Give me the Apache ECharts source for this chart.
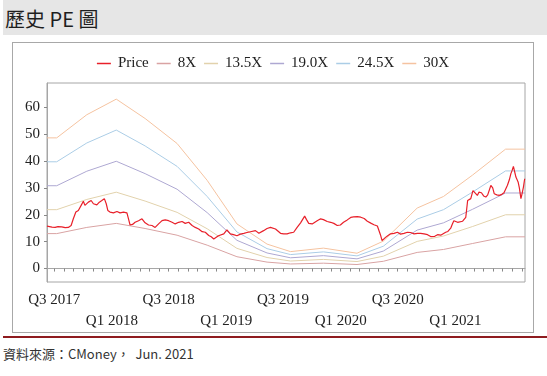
<!DOCTYPE html>
<html>
<head>
<meta charset="utf-8">
<script src="https://cdn.jsdelivr.net/npm/echarts@6/dist/echarts.min.js"></script>
<style>
  body { margin: 0; width: 547px; height: 376px; background: #fff; position: relative; overflow: hidden; font-family: "Noto Sans CJK TC", sans-serif; }
  .title-bar { position: absolute; left: 3px; top: 0; width: 544px; height: 35px; background: #e6e6e6; }
  .title-bar span { position: absolute; left: 2px; top: 0; line-height: 37px; font-size: 20px; color: #1e1e1e; }
  .chart-box { position: absolute; left: 12px; top: 42px; width: 520px; height: 289px; border: 1px solid #a8a8a8; }
  #pe-chart { width: 520px; height: 289px; }
  .source-line { position: absolute; left: 3px; top: 336px; width: 544px; height: 2px; background: #8e1b1f; }
  .source-text { position: absolute; left: 3px; top: 345px; line-height: 17px; font-size: 13px; color: #333; }
</style>
</head>
<body>
<div class="title-bar"><span>歷史 PE 圖</span></div>
<div class="chart-box"><div id="pe-chart"></div></div>
<div class="source-line"></div>
<div class="source-text">資料來源：CMoney，&nbsp; Jun. 2021</div>
<script>
// 股價 (讀圖估計)
var priceDates = ['2017-06-08','2017-06-16','2017-06-24','2017-07-04','2017-07-13','2017-07-25','2017-08-05','2017-08-15','2017-08-24','2017-08-31',
  '2017-09-08','2017-09-16','2017-09-25','2017-10-02','2017-10-07','2017-10-18','2017-10-27','2017-11-03','2017-11-14','2017-11-22',
  '2017-11-30','2017-12-08','2017-12-14','2017-12-19','2017-12-26','2018-01-06','2018-01-17','2018-01-27','2018-02-07','2018-02-18',
  '2018-02-23','2018-02-28','2018-03-08','2018-03-16','2018-03-27','2018-04-07','2018-04-17','2018-04-28','2018-05-09','2018-05-19',
  '2018-05-30','2018-06-10','2018-06-20','2018-07-01','2018-07-12','2018-07-22','2018-08-02','2018-08-13','2018-08-23','2018-09-03',
  '2018-09-14','2018-09-24','2018-10-05','2018-10-16','2018-10-26','2018-11-06','2018-11-14','2018-11-22','2018-11-27','2018-12-07',
  '2018-12-13','2018-12-24','2019-01-03','2019-01-14','2019-01-24','2019-02-04','2019-02-15','2019-02-26','2019-03-08','2019-03-19',
  '2019-04-04','2019-04-15','2019-04-30','2019-05-11','2019-05-22','2019-06-07','2019-06-23','2019-07-03','2019-07-14','2019-07-25',
  '2019-08-04','2019-08-15','2019-08-26','2019-09-01','2019-09-08','2019-09-14','2019-09-21','2019-10-02','2019-10-18','2019-10-29',
  '2019-11-07','2019-11-19','2019-11-30','2019-12-10','2019-12-21','2019-12-31','2020-01-10','2020-01-22','2020-02-02','2020-02-11',
  '2020-02-23','2020-03-05','2020-03-16','2020-03-26','2020-04-06','2020-04-16','2020-04-27','2020-05-02','2020-05-07','2020-05-12',
  '2020-05-17','2020-05-23','2020-05-30','2020-06-08','2020-06-19','2020-06-30','2020-07-10','2020-07-21','2020-08-01','2020-08-11',
  '2020-08-22','2020-09-02','2020-09-12','2020-09-23','2020-10-04','2020-10-14','2020-10-20','2020-10-27','2020-11-05','2020-11-15',
  '2020-11-21','2020-12-01','2020-12-08','2020-12-17','2020-12-22','2020-12-27','2021-01-08','2021-01-13','2021-01-24','2021-01-29',
  '2021-02-03','2021-02-09','2021-02-14','2021-02-19','2021-02-26','2021-03-04','2021-03-12','2021-03-17','2021-03-25','2021-04-01',
  '2021-04-08','2021-04-14','2021-04-24','2021-04-30','2021-05-05','2021-05-13','2021-05-21','2021-05-29','2021-06-05','2021-06-16',
  '2021-06-22','2021-06-27','2021-07-01','2021-07-05','2021-07-09','2021-07-13','2021-07-20','2021-07-24','2021-07-29','2021-08-01',
  '2021-08-06','2021-08-10'];
var priceValues = [15.8,15.6,15.4,15.3,15.6,15.5,15.2,15.3,16.0,18.5,
  21.0,21.6,23.5,25.0,23.5,24.7,25.3,24.1,23.7,24.7,
  25.3,26.0,24.1,21.6,21.0,20.7,21.2,20.7,21.0,20.7,
  18.5,16.2,16.4,17.2,17.8,18.5,17.0,16.2,16.0,15.3,
  16.6,17.8,18.1,17.8,17.2,16.6,17.2,17.5,16.8,17.2,
  16.0,15.3,14.7,13.7,13.5,12.3,11.8,11.0,10.6,12.2,
  12.5,12.9,14.4,12.9,12.6,12.2,12.8,13.1,13.4,13.7,
  14.1,13.1,14.1,14.9,15.3,14.7,13.1,12.9,12.9,13.3,
  13.5,15.3,17.0,17.5,19.5,18.2,16.8,16.6,17.8,18.5,
  18.2,17.5,17.2,16.8,16.0,16.2,17.2,18.1,19.0,19.2,
  19.3,19.1,18.6,17.6,16.9,16.3,15.8,15.3,12.5,10.4,
  10.0,11.6,12.2,12.9,13.1,13.5,12.8,13.1,13.5,13.4,
  12.9,13.1,13.1,12.9,12.6,11.9,11.4,12.0,12.6,12.4,
  12.2,13.5,13.8,15.0,16.5,17.8,17.2,16.8,17.6,17.8,
  19.0,25.3,25.0,26.0,29.0,29.3,27.2,28.4,28.2,27.0,
  26.6,27.4,30.9,30.0,27.8,27.4,27.2,27.6,28.2,31.0,
  33.0,35.3,36.5,38.0,36.0,34.0,32.2,30.0,26.0,27.5,
  30.3,33.4];

// 本益比河流圖轉折點
var bandDates = ['2017-06-08','2017-07-09','2017-10-13','2018-01-15','2018-04-17','2018-07-28','2018-11-01','2019-02-04','2019-05-11',
  '2019-07-25','2019-11-07','2020-02-22','2020-05-16','2020-09-01','2020-11-24','2021-02-24','2021-06-10','2021-08-11'];
var band8 =  [13.0,13.0,15.3,16.8,14.9,12.4,8.7,4.4,2.4,1.7,2.0,1.5,2.7,6.0,7.1,9.3,11.8,11.8];
var band135 = [21.9,21.9,25.7,28.4,25.1,20.9,14.8,7.5,4.1,2.8,3.4,2.6,4.6,10.1,12.1,15.6,20.0,20.0];
var band190 = [30.8,30.8,36.2,39.9,35.3,29.5,20.8,10.5,5.8,4.0,4.8,3.6,6.5,14.3,17.0,22.0,28.1,28.1];
var band245 = [39.7,39.7,46.7,51.5,45.6,38.0,26.8,13.6,7.4,5.2,6.2,4.7,8.3,18.4,21.9,28.4,36.3,36.3];
var band30 =  [48.6,48.6,57.2,63.0,55.8,46.5,32.8,16.6,9.1,6.3,7.6,5.7,10.2,22.5,26.8,34.7,44.4,44.4];

// 座標軸
var xLabelDates = ['2017-07-01','2018-01-01','2018-07-01','2019-01-01','2019-07-01','2020-01-01','2020-07-01','2021-01-01'];
var xLabelTexts = ['Q3 2017','Q1 2018','Q3 2018','Q1 2019','Q3 2019','Q1 2020','Q3 2020','Q1 2021'];
var xTickMonths = ['2017-07-01','2017-08-01','2017-09-01','2017-10-01','2017-11-01','2017-12-01',
  '2018-01-01','2018-02-01','2018-03-01','2018-04-01','2018-05-01','2018-06-01','2018-07-01','2018-08-01','2018-09-01','2018-10-01','2018-11-01','2018-12-01',
  '2019-01-01','2019-02-01','2019-03-01','2019-04-01','2019-05-01','2019-06-01','2019-07-01','2019-08-01','2019-09-01','2019-10-01','2019-11-01','2019-12-01',
  '2020-01-01','2020-02-01','2020-03-01','2020-04-01','2020-05-01','2020-06-01','2020-07-01','2020-08-01','2020-09-01','2020-10-01','2020-11-01','2020-12-01',
  '2021-01-01','2021-02-01','2021-03-01','2021-04-01','2021-05-01','2021-06-01','2021-07-01','2021-08-01'];
var yTicks = [0, 10, 20, 30, 40, 50, 60];

function ts(s) { return echarts.number.parseDate(s).getTime(); }
function pairs(dates, vals) {
  var out = [];
  for (var i = 0; i < dates.length; i++) out.push([ts(dates[i]), vals[i]]);
  return out;
}
var labelTs = xLabelDates.map(ts);

var myChart = echarts.init(document.getElementById('pe-chart'));
var serif = 'Liberation Serif, Times New Roman, serif';
function band(name, vals, color) {
  return {
    name: name, type: 'line', symbol: 'none', silent: true,
    data: pairs(bandDates, vals),
    lineStyle: { width: 1, color: color }, itemStyle: { color: color }, z: 2
  };
}
var option = {
  animation: false,
  legend: {
    top: 8, left: 'center',
    icon: 'rect', itemWidth: 14, itemHeight: 1.5, itemGap: 8,
    textStyle: { fontFamily: serif, fontSize: 15, color: '#222', padding: [0, 0, 0, 2] },
    data: ['Price', '8X', '13.5X', '19.0X', '24.5X', '30X']
  },
  grid: { left: 34, right: 8, top: 40, bottom: 50, show: true, borderColor: '#a6a6a6', borderWidth: 1, outerBoundsMode: 'none' },
  xAxis: {
    type: 'value',
    min: ts('2017-06-08'), max: ts('2021-08-11'),
    splitLine: { show: false },
    axisLine: { show: true, lineStyle: { color: '#a6a6a6' } },
    axisTick: { show: true, customValues: xTickMonths.map(ts), length: 3, lineStyle: { color: '#888' } },
    axisLabel: {
      customValues: labelTs, hideOverlap: false,
      margin: 8, lineHeight: 21,
      fontFamily: serif, fontSize: 15, color: '#222',
      formatter: function (v) {
        var i = labelTs.indexOf(v);
        if (i < 0) return '';
        return (i % 2 === 1 ? '\n' : '') + xLabelTexts[i];
      }
    }
  },
  yAxis: {
    type: 'value', min: -5, max: 69,
    splitLine: { show: false },
    axisLine: { show: true, lineStyle: { color: '#a6a6a6' } },
    axisTick: { show: true, customValues: yTicks, length: 3, lineStyle: { color: '#888' } },
    axisLabel: { customValues: yTicks, margin: 7, fontFamily: serif, fontSize: 15, color: '#222' }
  },
  series: [
    {
      name: 'Price', type: 'line', symbol: 'none',
      data: pairs(priceDates, priceValues),
      lineStyle: { width: 1.2, color: '#e8202a' }, itemStyle: { color: '#e8202a' }, z: 5
    },
    band('8X', band8, '#d9a3a3'),
    band('13.5X', band135, '#e2d2ac'),
    band('19.0X', band190, '#aea8d2'),
    band('24.5X', band245, '#abcde6'),
    band('30X', band30, '#f5c3a0')
  ]
};
myChart.setOption(option);
</script>
</body>
</html>
